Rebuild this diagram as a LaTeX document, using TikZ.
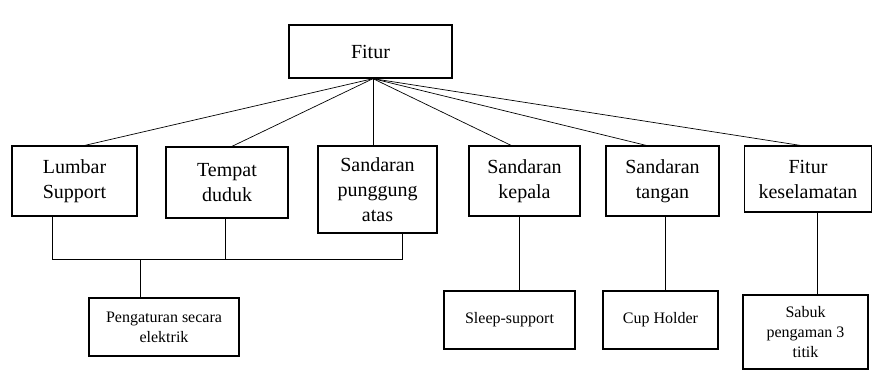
\documentclass[tikz,border=0pt]{standalone}
\usepackage{fontspec}
\setmainfont{Liberation Serif}
\usetikzlibrary{calc,positioning}

\begin{document}
\begin{tikzpicture}[x=1pt,y=-1pt,
  every node/.style={draw,align=center,inner sep=0pt,line width=1.3pt},
  fitbox/.style={font=\fontsize{20}{25}\selectfont},
  subbox/.style={font=\fontsize{16}{20}\selectfont},
  link/.style={line width=0.7pt}]
\useasboundingbox (0,0) rectangle (874,370);
% top level
\node [fitbox,minimum width=163pt,minimum height=53pt] (Fitur) at (370.5,51.5) {Fitur};
% second level
\node [fitbox,minimum width=125pt,minimum height=70pt] (Lumbar) at (74.5,181) {Lumbar\\Support};
\node [fitbox,minimum width=122pt,minimum height=71pt] (Tempat) at (227,182.5) {Tempat\\duduk};
\node [fitbox,minimum width=119pt,minimum height=87pt] (Punggung) at (377.5,189.5) {Sandaran\\punggung\\atas};
\node [fitbox,minimum width=111pt,minimum height=70pt] (Kepala) at (524.5,181) {Sandaran\\kepala};
\node [fitbox,minimum width=113pt,minimum height=70pt] (Tangan) at (662.5,181) {Sandaran\\tangan};
\node [fitbox,minimum width=127pt,minimum height=66pt] (Keselamatan) at (808,179) {Fitur\\keselamatan};
% third level
\node [subbox,minimum width=150pt,minimum height=58pt] (Elektrik) at (164,327) {Pengaturan secara\\elektrik};
\node [subbox,minimum width=131pt,minimum height=58pt] (Sleep) at (509.5,320) {Sleep-support};
\node [subbox,minimum width=115pt,minimum height=58pt] (Cup) at (660.5,320) {Cup Holder};
\node [subbox,minimum width=125pt,minimum height=74pt] (Sabuk) at (805.5,332) {Sabuk\\pengaman 3\\titik};
% links from Fitur
\coordinate (FiturFoot) at ($(Fitur.south)+(2.5,0)$);
\draw [link] (FiturFoot) -- ($(Lumbar.north)+(10.5,0)$);
\draw [link] (FiturFoot) -- ($(Tempat.north)+(5,0)$);
\draw [link] (FiturFoot) -- ($(Punggung.north)+(-4.5,0)$);
\draw [link] (FiturFoot) -- ($(Kepala.north)+(-13.5,0)$);
\draw [link] (FiturFoot) -- ($(Tangan.north)+(-16.5,0)$);
\draw [link] (FiturFoot) -- ($(Keselamatan.north)+(-8,0)$);
% shared bus to Pengaturan
\coordinate (Bus) at (0,259);
\draw [link] ($(Lumbar.south)+(-22.5,0)$) |- ($(Punggung.south |- Bus)+(24.5,0)$) -- ($(Punggung.south)+(24.5,0)$);
\draw [link] ($(Tempat.south)+(-2,0)$) -- ($(Tempat.south |- Bus)+(-2,0)$);
\draw [link] ($(Elektrik.north)+(-24,0)$) -- ($(Elektrik.north |- Bus)+(-24,0)$);
% single links
\draw [link] ($(Kepala.south)+(-5.5,0)$) -- ($(Kepala.south |- Sleep.north)+(-5.5,0)$);
\draw [link] ($(Tangan.south)+(2.5,0)$) -- ($(Tangan.south |- Cup.north)+(2.5,0)$);
\draw [link] ($(Keselamatan.south)+(9,0)$) -- ($(Keselamatan.south |- Sabuk.north)+(9,0)$);
\end{tikzpicture}
\end{document}
